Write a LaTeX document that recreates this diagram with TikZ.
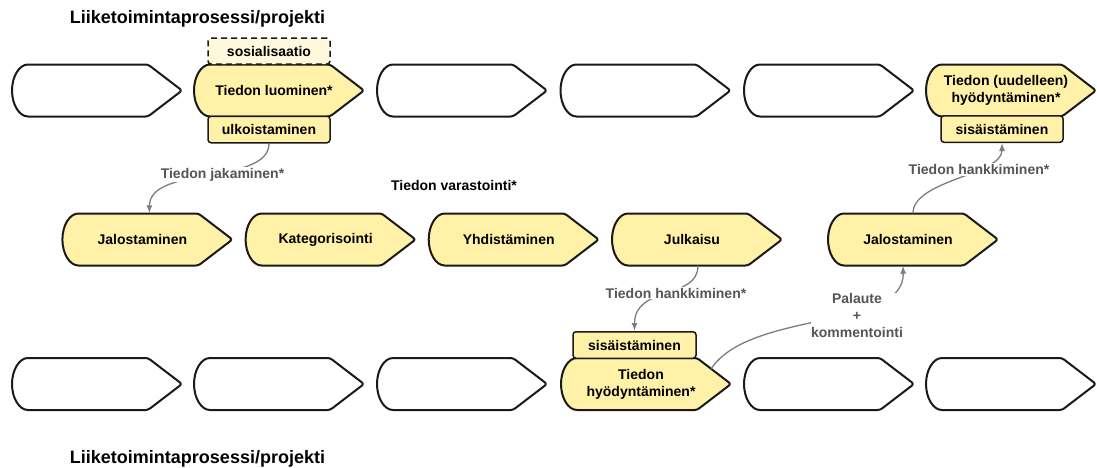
\documentclass[tikz,border=0pt]{standalone}
\usepackage{fontspec}
\setmainfont{Liberation Sans}
\usetikzlibrary{arrows.meta,calc}

\definecolor{procfill}{HTML}{FFF1A8}
\definecolor{socfill}{HTML}{FFF8DD}
\definecolor{edgeline}{HTML}{1A1A1A}
\definecolor{connline}{HTML}{7C7C7C}
\definecolor{conntext}{HTML}{555555}

\newcommand\procfont{\fontsize{14}{17}\selectfont\bfseries}
\newcommand\headfont{\fontsize{18}{21}\selectfont\bfseries}

\tikzset{
  procline/.style={draw=edgeline, line width=2pt, line join=round, line cap=round},
  procbox/.style={minimum width=170pt, minimum height=52pt, inner sep=0pt, align=center, font=\procfont},
  tagbox/.style={draw=edgeline, line width=1.5pt, rounded corners=3pt, minimum width=122pt,
    minimum height=26.5pt, inner sep=0pt, font=\procfont, fill=procfill},
  conn/.style={draw=connline, line width=1.3pt, -{Latex[length=8pt,width=6pt]}},
  connlabel/.style={fill=white, inner sep=1pt, font=\procfont, text=conntext, align=center},
  heading/.style={font=\headfont, anchor=base},
  plain/.style={font=\procfont},
}

% process step: name, left x, centre y (downwards), fill, text
\newcommand\procstep[5]{%
  \path[procline, fill=#4] (#2+16,-#3+26) [rounded corners=2.5pt] -- (#2+136,-#3+26) -- (#2+170,-#3)
    -- (#2+136,-#3-26) [sharp corners] -- (#2+16,-#3-26)
    .. controls (#2+7.2,-#3-26) and (#2,-#3-14) .. (#2,-#3)
    .. controls (#2,-#3+14) and (#2+7.2,-#3+26) .. (#2+16,-#3+26);
  \node[procbox] (#1) at (#2+80,-#3) {#5};
}

\begin{document}
\begin{tikzpicture}[x=1pt,y=1pt]
\useasboundingbox (0,0) rectangle (1097,-467);

% headings
\node[heading] (headtop) at (197.5,-23.5) {Liiketoimintaprosessi/projekti};
\node[heading] (headbot) at (197.5,-463) {Liiketoimintaprosessi/projekti};

% upper process
\procstep{t1}{12}{90.5}{white}{}
\procstep{t2}{194}{90.5}{procfill}{Tiedon luominen*}
\procstep{t3}{377}{90.5}{white}{}
\procstep{t4}{560.5}{90.5}{white}{}
\procstep{t5}{744}{90.5}{white}{}
\procstep{t6}{926}{90.5}{procfill}{Tiedon (uudelleen)\\hyödyntäminen*}

% storage chain
\node[plain] (store) at (454,-185) {Tiedon varastointi*};
\procstep{m1}{62.4}{239.5}{procfill}{Jalostaminen}
\procstep{m2}{245.6}{239.5}{procfill}{Kategorisointi}
\procstep{m3}{428.7}{239.5}{procfill}{Yhdistäminen}
\procstep{m4}{612}{239.5}{procfill}{Julkaisu}
\procstep{m5}{828}{239.5}{procfill}{Jalostaminen}

% lower process
\procstep{b1}{12}{384}{white}{}
\procstep{b2}{194}{384}{white}{}
\procstep{b3}{377}{384}{white}{}
\procstep{b4}{561}{384}{procfill}{Tiedon\\hyödyntäminen*}
\procstep{b5}{744}{384}{white}{}
\procstep{b6}{926}{384}{white}{}

% conversion tags
\node[tagbox, fill=socfill, dashed, dash pattern=on 6pt off 4pt, minimum height=26pt] (soc) at (269,-51) {sosialisaatio};
\node[tagbox] (ulk) at (269,-129.5) {ulkoistaminen};
\node[tagbox] (sis1) at (1002,-129) {sisäistäminen};
\node[tagbox, minimum width=123pt] (sis2) at (634.5,-345) {sisäistäminen};

% connectors
\draw[conn] (ulk.south) .. controls (269,-185) and (149.4,-165) .. ($(m1.north)+(7,0)$);
\draw[conn] ($(m4.south)+(6,0)$) .. controls (698,-300) and (634.5,-285) .. (sis2.north);
\draw[conn] ($(m5.north)+(5,0)$) .. controls (913,-180) and (1002,-175) .. (sis1.south);
\draw[conn] ($(b4.east)+(-15,15.3)$) .. controls (750,-310) and (905,-330) .. ($(m5.south)+(-5,0)$);

% connector labels
\node[connlabel] (lshare) at (222.5,-174.5) {Tiedon jakaminen*};
\node[connlabel] (lacq1) at (676,-293) {Tiedon hankkiminen*};
\node[connlabel] (lacq2) at (979,-169.5) {Tiedon hankkiminen*};
\node[connlabel, inner sep=0pt] (lfeed) at (857,-315) {Palaute\\+\\kommentointi};
\end{tikzpicture}
\end{document}
